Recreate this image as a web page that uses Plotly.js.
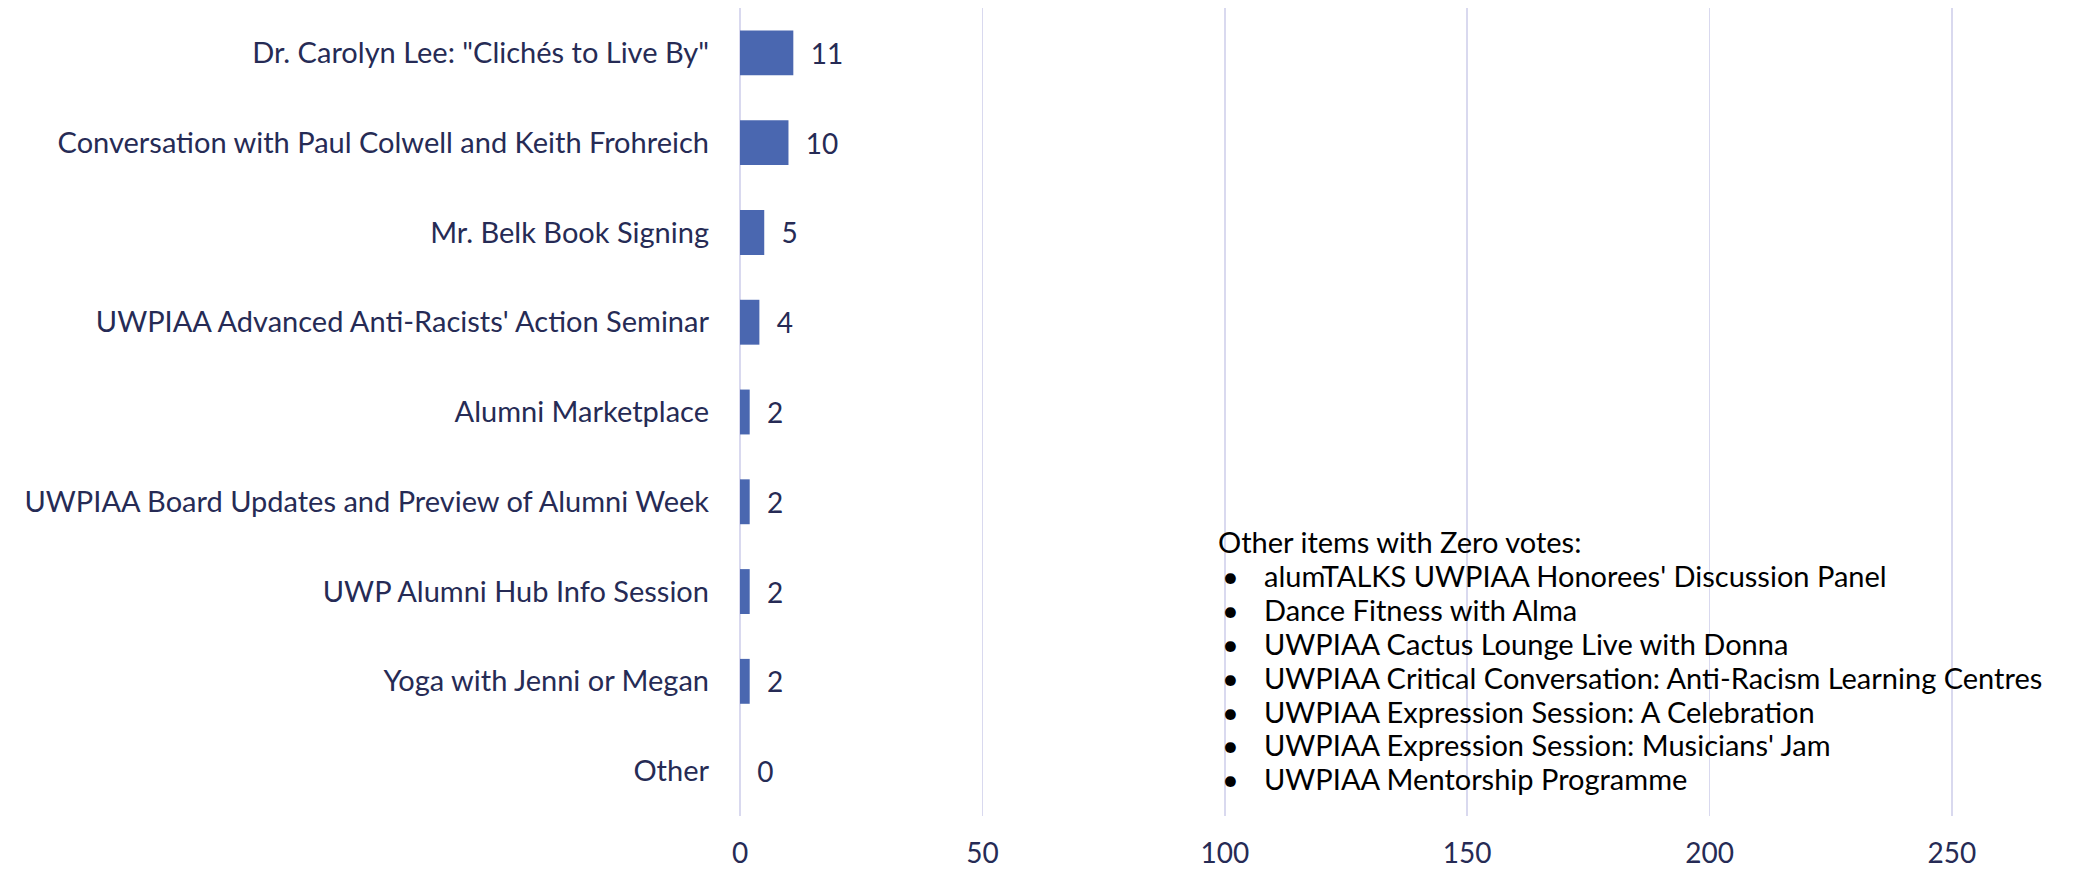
<!DOCTYPE html>
<html>
<head>
<meta charset="utf-8">
<script src="https://cdn.plot.ly/plotly-3.0.1.min.js"></script>
<style>html,body{margin:0;padding:0;background:#fff;}#chart{width:2077px;height:870px;}</style>
</head>
<body>
<div id="chart"></div>
<script>
const categories = [
  'Dr. Carolyn Lee: "Clichés to Live By"',
  'Conversation with Paul Colwell and Keith Frohreich',
  'Mr. Belk Book Signing',
  "UWPIAA Advanced Anti-Racists' Action Seminar",
  'Alumni Marketplace',
  'UWPIAA Board Updates and Preview of Alumni Week',
  'UWP Alumni Hub Info Session',
  'Yoga with Jenni or Megan',
  'Other'
];
const votes = [11, 10, 5, 4, 2, 2, 2, 2, 0];
const xTicks = [0, 50, 100, 150, 200, 250];
const noteTitle = 'Other items with Zero votes:';
const zeroVoteItems = [
  "alumTALKS UWPIAA Honorees' Discussion Panel",
  'Dance Fitness with Alma',
  'UWPIAA Cactus Lounge Live with Donna',
  'UWPIAA Critical Conversation: Anti-Racism Learning Centres',
  'UWPIAA Expression Session: A Celebration',
  "UWPIAA Expression Session: Musicians' Jam",
  'UWPIAA Mentorship Programme'
];

const FONT = 'Lato, "Open Sans", sans-serif';
const NAVY = '#262b55';
const GRID = '#d9d9ef';

const trace = {
  type: 'bar',
  orientation: 'h',
  x: votes,
  y: categories,
  marker: {color: '#4a67b0'},
  text: votes.map(v => '\u00a0\u00a0' + v),
  textposition: 'outside',
  textfont: {family: FONT, size: 28, color: NAVY},
  cliponaxis: false,
  hoverinfo: 'x+y'
};

const mTop = 8, mBottom = 54, mLeft = 740, H = 870, W = 2077;
const plotH = H - mTop - mBottom;
function py(pix) { return (H - mBottom - pix) / plotH; }
function px(pix) { return (pix - mLeft) / (W - mLeft); }

const lineFont = {family: FONT, size: 29, color: '#000'};
const LINE0 = 542, LINE_STEP = 33.8;
const annotations = [{
  xref: 'paper', yref: 'paper', x: px(1216), y: py(LINE0),
  xanchor: 'left', yanchor: 'middle', align: 'left', showarrow: false,
  text: noteTitle, font: lineFont
}];
zeroVoteItems.forEach((item, i) => {
  const yy = py(LINE0 + (i + 1) * LINE_STEP);
  annotations.push({
    xref: 'paper', yref: 'paper', x: px(1220), y: yy,
    xanchor: 'left', yanchor: 'middle', showarrow: false,
    text: '•', font: lineFont
  });
  annotations.push({
    xref: 'paper', yref: 'paper', x: px(1262), y: yy,
    xanchor: 'left', yanchor: 'middle', align: 'left', showarrow: false,
    text: item, font: lineFont
  });
});

const layout = {
  width: W, height: H,
  margin: {l: mLeft, r: 0, t: mTop, b: mBottom, pad: 0},
  paper_bgcolor: '#fff', plot_bgcolor: '#fff',
  showlegend: false,
  bargap: 0.5,
  font: {family: FONT, size: 29, color: NAVY},
  xaxis: {
    range: [0, 275.8],
    tickvals: xTicks,
    ticktext: xTicks.map(String),
    showgrid: true, gridcolor: GRID, gridwidth: 1.5,
    zeroline: true, zerolinecolor: GRID, zerolinewidth: 1.5,
    showline: false, ticks: '',
    ticklabelstandoff: 18,
    tickfont: {family: FONT, size: 28, color: NAVY},
    fixedrange: true
  },
  yaxis: {
    autorange: 'reversed',
    showgrid: false, zeroline: false, showline: false, ticks: '',
    ticklabelstandoff: 30,
    tickfont: {family: FONT, size: 29, color: NAVY},
    fixedrange: true
  },
  annotations: annotations
};

Plotly.newPlot('chart', [trace], layout, {displayModeBar: false, staticPlot: true});
</script>
</body>
</html>
